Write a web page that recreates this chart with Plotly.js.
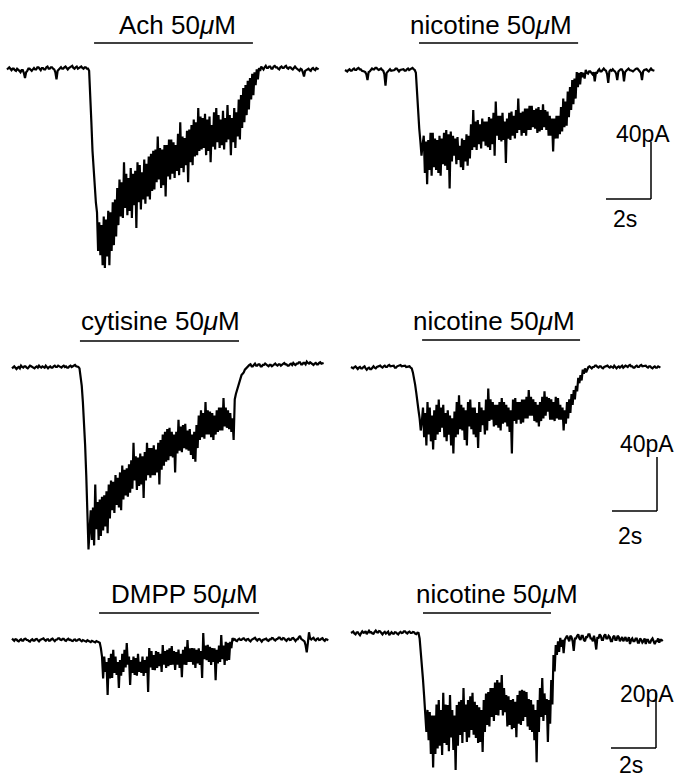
<!DOCTYPE html>
<html>
<head>
<meta charset="utf-8">
<script src="https://cdn.plot.ly/plotly-3.0.1.min.js"></script>
<style>html,body{margin:0;padding:0;background:#fff;}#chart{width:681px;height:778px;}</style>
</head>
<body>
<div id="chart"></div>
<script>
// ---- DATA (whole-cell currents, pA; sampled every dt seconds) ----
const dt = 0.05;
const achI = [
 -1,0, 0.5,-0.5, -1.5,-0.5, -0.5,-1.5, -2,-0.5, -1,-2, -3,-1.5, -1.5,-3.5, -7,-3, -2,-0.5, -0.5,-1.5, -2,-1, 0,-1, -1,0.5, 0.5,-0.5, -1.5,0, 0,-1, -1,0.5, 1,-0.5, -0.5,0.5, 0.5,-0.5, -1,-3, -8,-2, -1,0, 0.5,-0.5, -0.5,0.5, 1,0, -1,0, 0.5,1, 1.5,0, -0.5,0.5, 1,-0.5, 0,1, 1,0, -0.5,0.5, 0.5,-0.5, -0.5,-2,
 -17,-38,-58,-72,-85,-94,
 -101,-128, -108,-131, -110,-138, -104,-140, -106,-132, -100,-138, -101,-128, -94,-124, -92,-118, -84,-110, -78,-104, -80,-105, -66,-98, -74,-103, -77,-100, -70,-105, -74,-96, -72,-112, -66,-94, -68,-99, -73,-92, -64,-95, -67,-90, -62,-92, -60,-86, -58,-85, -57,-80, -48,-78, -56,-84, -57,-82, -54,-90, -54,-76, -50,-78, -50,-74, -52,-77, -54,-72, -46,-75, -38,-70, -48,-73, -49,-68, -44,-80, -43,-66, -40,-68, -36,-62, -38,-61, -28,-58, -34,-57, -35,-56, -32,-61, -36,-58, -34,-66, -40,-55, -31,-57, -28,-52, -33,-56, -36,-54, -30,-57, -35,-52, -26,-50, -33,-61, -35,-52, -28,-56, -31,-48, -22,-50, -19,-42, -14,-38, -12,-33, -9,-29, -7,-22, -4,-19, -3,-12, -1,-8, 0,-2,
 1,0, -1,0.5, 1.5,0, 0,1, 1,-0.5, -0.5,1, 1.5,0.5, 0.5,-0.5, -1,0.5, 1,0, 0,1, 1.5,0, -0.5,0.5, 0.5,-0.5, -1,0, 1,0, -0.5,-1.5, -2,-0.5, -1,-3, -6,-2, -1.5,-0.5, -0.5,-1.5, -2,-0.5, 0,-1, -1.5,0, -0.5,-1];
const nic1I = [
 0,-0.5, -1,0, 0.5,-0.5, -0.5,0.5, 1,0, 0,1, 1.5,0.5, 0.5,-0.5, -0.5,-1, -1.5,-3, -7,-1.5, -1,0, 1,0.5, 0.5,1.5, 1.5,0.5, 0,0.5, 1,0, -0.5,-3, -11,-2, -1,0, 0.5,-0.5, -0.5,0, 0,1, 1,0, -1,0, 0,0.5, 0.5,-0.5, -0.5,0.5, 1,0, 0.5,1, 1.5,0.5, 0,-2,
 -18,-34,-41,-50,-60,-52,
 -46,-72, -50,-80, -49,-70, -44,-74, -44,-68, -48,-70, -49,-72, -46,-74, -48,-66, -44,-67, -42,-70, -45,-83, -43,-64, -46,-60, -48,-66, -47,-63, -53,-68, -48,-70, -49,-64, -45,-67, -46,-62, -38,-56, -28,-54, -36,-56, -35,-52, -38,-55, -34,-50, -36,-53, -36,-54, -33,-56, -34,-52, -30,-60, -22,-46, -32,-49, -32,-50, -30,-49, -36,-65, -34,-48, -30,-49, -29,-46, -32,-48, -28,-44, -20,-42, -30,-46, -29,-44, -27,-46, -27,-42, -25,-42, -25,-40, -28,-41, -27,-44, -26,-43, -28,-42, -24,-40, -28,-42, -29,-46, -32,-46, -34,-57, -34,-48, -32,-48, -32,-45, -26,-43, -20,-40, -22,-39, -15,-33, -12,-28, -7,-24, -6,-20, -1.5,-12, -2,-10, -1.5,-5, -2,-6, 0,-2,
 -2.5,-1, -1,-2, -3,-1.5, -8,-2, -2,-0.5, 0.5,-1, -1,0, 1,0, -0.5,-3, -9,-1, 0,-0.5, 0.5,-0.5, -1,-2.5, -7,-1, 0,0.5, 0.5,-1, -8,-1.5, -0.5,0.5, 1,0, 0,-0.5, -1,0, 0.5,1, 1,0, -1,-2, -7,-1, 0,0.5, 0.5,-0.5, -1,0, 1,0, 0,-0.5];
const cytI = [
 -1,0, 0.5,-0.5, -1.5,-0.5, 0,-1, 1,0, -0.5,0.5, 0.5,-0.5, -1,0, 1,0.5, 0,-1, -1,0, 0.5,-0.5, 1,0, -0.5,0.5, 0,-0.5, 1,0, -1,0, 0.5,-0.5, -0.5,0.5, 1,0, 0,1, 0.5,-0.5, -0.5,0.5, 1,0, 0.5,-0.5, -0.5,0.5, 1,0, 0.5,1, 1.5,0.5, 0.5,0,
 -1,-6,-14,-26,-40,-58,-80,-108,-135,-120,
 -106,-128, -104,-132, -87,-120, -100,-128, -98,-125, -96,-121, -95,-118, -92,-123, -87,-112, -84,-106, -85,-108, -80,-102, -82,-104, -78,-106, -73,-98, -76,-95, -75,-96, -72,-93, -69,-90, -56,-84, -66,-91, -67,-88, -64,-87, -66,-97, -63,-84, -56,-80, -60,-82, -60,-80, -58,-80, -61,-78, -56,-87, -54,-76, -50,-73, -48,-70, -46,-69, -45,-66, -48,-67, -50,-78, -48,-64, -39,-62, -44,-63, -43,-60, -42,-61, -47,-62, -46,-65, -50,-68, -48,-70, -43,-60, -36,-54, -32,-52, -34,-53, -26,-50, -32,-50, -33,-52, -34,-54, -36,-50, -32,-48, -30,-47, -30,-47, -23,-44, -30,-45, -32,-46, -34,-48, -38,-54,
 -24,-20, -17,-15, -13,-9, -6,-5, -4,-2, -1,0,
 1,1.5, 2,0.5, 0.5,1.5, 2.5,1, 1,2, 2,0.5, 0.5,1.5, 1.5,2.5, 2,1, 0.5,1.5, 1.5,0.5, 1,2, 2.5,1.5, 1,2, 2,1, 1.5,2.5, 3,2, 2,1, 1,2, 2.5,1.5, 3,2, 1.5,2.5, 2.5,3.5, 3.5,2, 2,3, 3,2, 4,3, 2.5,3.5, 3,2, 1.5,2.5, 3,2, 2,3, 3.5,2.5, 2.5,3];
const nic2I = [
 0,-0.5, -1,0, 0.5,-0.5, -1.5,-0.5, 0,-1, -1,0, 0.5,-1, -2,-1, -0.5,-1.5, -1.5,-0.5, 0.5,-0.5, -1,0, 0.5,1, 1,0, -0.5,0.5, 1,0, 0,1, 1.5,0.5, 0.5,1, 1,-0.5, -0.5,0.5, 1,1.5, 1.5,0.5, 0.5,1, 1,0, 0,0.5, 0.5,-0.5, -1,-4,
 -8,-13,-19,-24,-32,-38,-47,-40,
 -30,-52, -34,-58, -26,-50, -30,-55, -36,-61, -32,-54, -28,-50, -24,-48, -30,-45, -28,-52, -34,-55, -32,-50, -36,-58, -38,-64, -33,-52, -26,-50, -21,-46, -28,-47, -30,-54, -32,-58, -26,-44, -24,-46, -30,-50, -30,-52, -34,-60, -26,-48, -30,-43, -32,-50, -24,-47, -16,-40, -24,-39, -26,-44, -28,-43, -28,-45, -26,-47, -23,-42, -26,-41, -28,-44, -30,-48, -32,-64, -24,-40, -23,-42, -26,-39, -26,-42, -24,-41, -24,-38, -22,-38, -17,-36, -22,-36, -24,-40, -26,-41, -28,-44, -26,-40, -22,-38, -18,-36, -22,-33, -23,-39, -24,-39, -26,-40, -22,-38, -23,-39, -28,-39, -30,-47, -32,-42, -26,-38, -24,-34, -20,-28, -17,-24, -14,-18, -8,-12, -6,-10, -2,-5, -1,-4,
 -1,0, 0.5,-0.5, -1,0, 0,1, 1,0, -0.5,0.5, 0.5,-0.5, -1,0, 0.5,1, 1,0, -0.5,0.5, 0,-0.5, 1,0, -1,0, 0.5,-0.5, 0,1, -0.5,0, 1,0.5, 0,1, 1.5,0.5, 0.5,-0.5, -0.5,0.5, 1,0, 0,1, 1.5,0.5, 0.5,1, 1,0, -0.5,0.5, 0.5,-0.5, -1,0, 0.5,-0.5, -0.5,0.5, 0,-0.5];
const dmppI = [
 0.5,0, -0.3,0.3, 0.2,-0.3, -0.5,0, 0.3,-0.2, -0.2,0.4, 0.5,0, 0,-0.4, -0.6,0, 0.3,-0.2, -0.2,0.3, 0.4,-0.1, -0.5,0, 0.2,0.5, 0.6,0, -0.3,0.2, 0.3,-0.3, -0.2,0.3, 0.5,0, -0.4,0.1, 0.2,0.6, 0.6,0.1, 0,0.4, 0.4,-0.1, -0.3,0.2, 0.5,0, 0.1,-0.3, -0.4,0.1, 0.2,-0.3, -0.2,0.2, 0.3,-0.2, -0.5,0, -0.2,-0.6, -0.6,-0.1, -0.3,-0.7, -0.8,-0.3, -0.5,-1, -0.9,-0.4, -0.6,-1.1, -1,-3,
 -6,-14, -6,-11.6, -8,-20, -6.6,-14, -5,-13.8, -3.6,-12, -6,-12.7, -8,-17.5, -7.3,-13, -5,-11.6, -3.6,-10, -1.1,-9, -6,-16.4, -7.3,-12, -6,-12.7, -6.6,-13, -5,-11.6, -8,-12, -6,-13.1, -7.3,-12, -6,-18.9, -2.9,-10, -4,-10.9, -5.5,-11, -4,-10.2, -4.4,-9.5, -5,-11.6, -1.8,-9, -4,-10.2, -3.6,-9.5, -3,-9.1, -2.2,-9, -4,-10.9, -4.4,-9, -3.5,-10.2, -5,-13.5, -3.6,-9, -2.5,-9.1, 0,-8, -3,-8, -2.9,-9, -3,-10.2, -3.6,-8.5, -3,-9.1, -4,-13.8, 2.5,-7, -2,-7.3, -1.8,-8, -2.5,-9.1, -2.9,-8, -3,-14.6, -3.6,-8.5, -2,-8, 1.8,-7, -2,-9.1, -0.7,-7.5, -1,-7.3, -0.7,-3, 0.7,0,
 0.3,-0.2, -0.4,0.2, 0.5,0, 0,0.5, 0.6,0.1, -0.2,0.3, 0.4,-0.2, -0.5,0.1, 0.3,0.7, 0.8,0.2, -0.2,0.3, 0.4,-0.1, -0.6,0, 0.2,0.6, 0.5,-0.1, -0.3,0.2, 0.2,0.7, 0.6,0.1, -0.2,0.3, 0.4,0.9, 0.9,0.3, 0.2,0.7, 0.6,0, -0.3,0.3, 0.5,0, 0.1,0.6, 0.7,0.2, -0.4,0.2, 0.3,1, 1.5,0.4, 0.2,-0.3, -0.5,-2, -4.5,-1, 2.8,0.5, 0.2,0.6, 0.8,0.1, -0.2,0.4, 0.6,0, 0.1,0.5, 0.7,0, -0.3,0.3, 0.2,-0.2];
const nic3I = [
 0,0.4, 0.5,-0.2, -0.5,0.2, 0.3,-0.3, -0.8,0, 0.6,0.1, 0.2,0.7, -0.4,0.2, 0.8,0.2, 0.3,-0.2, -0.3,0.4, 0.9,0.3, 0.2,0.7, 0.6,0, -0.5,0.1, 0.4,-0.2, 0,0.5, -0.8,-0.1, 0.3,-0.2, -0.3,0.3, 0.2,-0.2, -0.5,0.1, 0.4,0, 0.1,0.6, 0.6,0.1, -0.2,0.3, 0.5,0, 0,0.4, 0.3,-0.2, -0.4,0.1, 0,-2,
 -6.2,-10,-17,-23,-28,-36,
 -28,-39, -28.8,-44, -30,-49, -30,-44, -26,-42, -24.4,-41, -28,-44.4, -21.8,-40, -26,-40.8, -26.2,-43, -22.6,-38, -28,-42.6, -30,-49.9, -26.2,-41, -25,-37.1, -24.4,-40, -20,-36, -26,-39.7, -24.4,-38, -23,-35.3, -21.8,-37, -25,-38.2, -26.2,-40, -27,-39.7, -28,-43.3, -24.4,-36, -22,-33.5, -21.5,-34, -20,-30.6, -20,-32, -18,-29.8, -17.1,-30, -18,-28, -15.3,-30, -20,-28.8, -22.6,-34, -23,-33.5, -24.4,-35, -24,-34.6, -25,-37.9, -22.6,-33, -21,-33.5, -20.7,-32, -21,-30.6, -21.5,-34, -24,-35.3, -24.4,-36, -26,-39, -28,-47, -24.4,-36, -20,-30.6, -16.4,-32, -22,-29.8, -24,-39.7, -24.4,-33, -17.1,-26, -8,-14, -4.4,-8, -3,-6.9, -1.8,-5, -2.5,-7.3,
 -2.5,-1.5, -1,-2, -3,-1, -1.5,-3, -6.5,-2, -2,-1, -0.5,-2, -2.5,-1, -1,-2.5, -3,-1.5, -1.5,-0.5, -0.5,-2, -2,-3, -1,-3, -6,-1.5, -2,-0.5, -1,-2.5, -2.5,-1, -0.5,-2, -2,-1, -1.5,-3, -3,-1.5, -1,-2.5, -2.5,-1, -1.5,-3, -2,-1.5, -3,-2, -1.5,-3, -2.5,-1.5, -4,-2.5, -2,-3, -3,-2, -2,-3.5, -3.5,-2, -2.5,-3.5, -3,-2, -4,-2.5, -2.5,-3.5, -3.5,-2.5, -2,-3, -4,-3, -3,-2, -3.5,-2.5, -2.5,-3];

const agonists = ['Ach 50<i>μ</i>M','nicotine 50<i>μ</i>M','cytisine 50<i>μ</i>M','nicotine 50<i>μ</i>M','DMPP 50<i>μ</i>M','nicotine 50<i>μ</i>M'];
const appOn  = [3.87, 3.29, 3.02, 3.16, 3.87, 3.20];   // s, drug application start
const appOff = [10.93, 10.36, 10.09, 10.18, 10.98, 8.89]; // s, drug application end
const scaleAmp = [40, 40, 20];   // pA per row
const scaleDur = [2, 2, 2];      // s per row
const scaleLabels = ['40pA', '40pA', '20pA'];
const timeLabels = ['2s', '2s', '2s'];

// ---- LAYOUT GEOMETRY (pixels) ----
const W = 681, H = 778, PXS = 22.5;          // px per second
const colPx = [[0, 340], [340, 681]];
const rowPx = [[0, 280], [280, 560], [560, 778]];
const rowPxPerPA = [1.4286, 1.3514, 2.747];
const series = [achI, nic1I, cytI, nic2I, dmppI, nic3I];
const geo = [ // trace start px, baseline px
  {xs: 7,   yb: 68},  {xs: 345, yb: 70},
  {xs: 12,  yb: 367}, {xs: 351, yb: 367},
  {xs: 12,  yb: 640}, {xs: 351, yb: 633}
];
const barPy = [43, 43, 341, 340, 613, 613];
const labelPos = [[178, 25], [491, 25], [160, 321], [494, 321], [184, 594], [497, 594]];
const scaleCorner = [[651, 199], [657, 511], [656, 748]];
const scaleLabelPos = [[643, 134], [647, 444], [647, 694]];
const timeLabelPos = [[625, 219], [630, 536], [631, 765]];

const FONT = 'Liberation Sans, Arial, Helvetica, sans-serif';
const traces = [], shapes = [], annotations = [];
const layout = {
  width: W, height: H, margin: {l: 0, r: 0, t: 0, b: 0},
  paper_bgcolor: '#fff', plot_bgcolor: 'rgba(0,0,0,0)', showlegend: false
};
const px2paperX = p => p / W, px2paperY = p => 1 - p / H;

series.forEach((I, i) => {
  const row = Math.floor(i / 2), col = i % 2;
  const [c0, c1] = colPx[col], [r0, r1] = rowPx[row];
  const s = rowPxPerPA[row], g = geo[i];
  const n = i + 1, xa = n === 1 ? 'x' : 'x' + n, ya = n === 1 ? 'y' : 'y' + n;
  layout['xaxis' + (n === 1 ? '' : n)] = {
    domain: [c0 / W, c1 / W], range: [(c0 - g.xs) / PXS, (c1 - g.xs) / PXS],
    visible: false, fixedrange: true, anchor: ya
  };
  layout['yaxis' + (n === 1 ? '' : n)] = {
    domain: [1 - r1 / H, 1 - r0 / H], range: [-(r1 - g.yb) / s, (g.yb - r0) / s],
    visible: false, fixedrange: true, anchor: xa
  };
  traces.push({
    type: 'scatter', mode: 'lines', y: I, x0: 0, dx: dt, xaxis: xa, yaxis: ya,
    line: {color: '#000', width: 2.2}, hoverinfo: 'skip'
  });
  // drug application bar
  shapes.push({type: 'line', xref: xa, yref: 'paper', x0: appOn[i], x1: appOff[i],
    y0: px2paperY(barPy[i]), y1: px2paperY(barPy[i]), line: {color: '#000', width: 1.6}});
  annotations.push({xref: 'paper', yref: 'paper', x: px2paperX(labelPos[i][0]), y: px2paperY(labelPos[i][1]),
    xanchor: 'center', yanchor: 'middle', showarrow: false, text: agonists[i],
    font: {family: FONT, size: 26, color: '#000'}});
  // scale bars (right column)
  if (col === 1) {
    const [cx, cy] = scaleCorner[row];
    const tc = (cx - g.xs) / PXS, ic = -(cy - g.yb) / s;
    shapes.push({type: 'line', xref: xa, yref: ya, x0: tc - scaleDur[row], x1: tc, y0: ic, y1: ic,
      line: {color: '#000', width: 1.5}});
    shapes.push({type: 'line', xref: xa, yref: ya, x0: tc, x1: tc, y0: ic, y1: ic + scaleAmp[row],
      line: {color: '#000', width: 1.5}});
    annotations.push({xref: 'paper', yref: 'paper', x: px2paperX(scaleLabelPos[row][0]), y: px2paperY(scaleLabelPos[row][1]),
      xanchor: 'center', yanchor: 'middle', showarrow: false, text: scaleLabels[row],
      font: {family: FONT, size: 23, color: '#000'}});
    annotations.push({xref: 'paper', yref: 'paper', x: px2paperX(timeLabelPos[row][0]), y: px2paperY(timeLabelPos[row][1]),
      xanchor: 'center', yanchor: 'middle', showarrow: false, text: timeLabels[row],
      font: {family: FONT, size: 23, color: '#000'}});
  }
});
layout.shapes = shapes;
layout.annotations = annotations;
Plotly.newPlot('chart', traces, layout, {displayModeBar: false, staticPlot: true});
</script>
</body>
</html>
